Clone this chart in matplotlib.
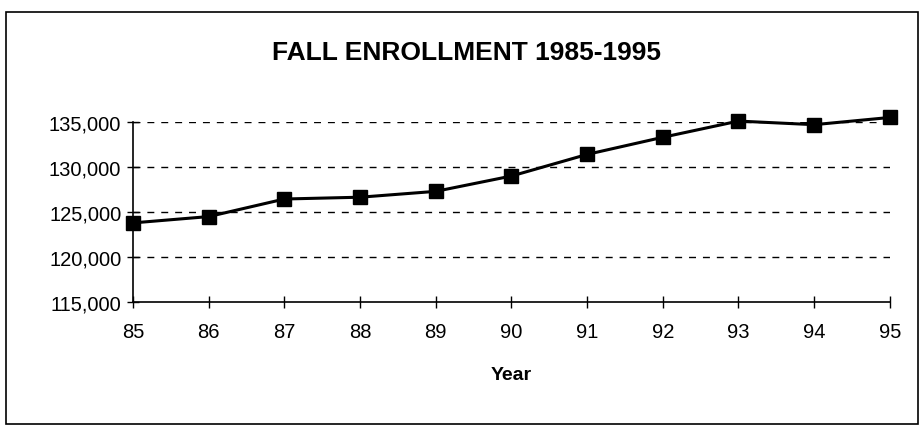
import matplotlib.pyplot as plt
from matplotlib.patches import Rectangle
from matplotlib.ticker import FuncFormatter

# dados
anos = [85, 86, 87, 88, 89, 90, 91, 92, 93, 94, 95]
matriculas = [123800, 124500, 126450, 126650, 127300, 129000, 131400, 133300, 135100, 134700, 135500]
rotulos_x = ['85', '86', '87', '88', '89', '90', '91', '92', '93', '94', '95']
ticks_y = [115000, 120000, 125000, 130000, 135000]

plt.rcParams['font.family'] = ['Liberation Sans', 'DejaVu Sans']

fig = plt.figure(figsize=(9.24, 4.27), dpi=100)
ax = fig.add_axes([0.144, 0.290, 0.819, 0.422])

# moldura do grafico
fig.patches.append(Rectangle((0.006, 0.005), 0.988, 0.965, transform=fig.transFigure,
                             fill=False, edgecolor='black', linewidth=1.2))

ax.plot(anos, matriculas, color='black', linewidth=2.2, marker='s',
        markersize=10, markerfacecolor='black', markeredgecolor='black',
        zorder=3, clip_on=False)

ax.set_xlim(anos[0], anos[-1])
ax.set_ylim(115000, 135000)
ax.set_xticks(anos)
ax.set_xticklabels(rotulos_x)
ax.set_yticks(ticks_y)
ax.yaxis.set_major_formatter(FuncFormatter(lambda v, p: f'{int(v):,}'))

for v in ticks_y[1:]:
    ax.axhline(v, color='black', linestyle=(0, (5, 5)), linewidth=1.0, zorder=1)

for lado in ['top', 'right']:
    ax.spines[lado].set_visible(False)
ax.spines['left'].set_linewidth(1.2)
ax.spines['bottom'].set_linewidth(1.2)
ax.spines['left'].set_bounds(115000, 135000)

ax.tick_params(axis='both', direction='inout', length=9, width=1.0, labelsize=14.5, colors='black')
ax.tick_params(axis='x', pad=10)
ax.tick_params(axis='y', pad=4)

fig.text(0.505, 0.875, 'FALL ENROLLMENT 1985-1995', fontsize=19, fontweight='bold',
         ha='center', va='center')
ax.set_xlabel('Year', fontsize=14, fontweight='bold', labelpad=18)

fig.savefig('out.png', dpi=100)
